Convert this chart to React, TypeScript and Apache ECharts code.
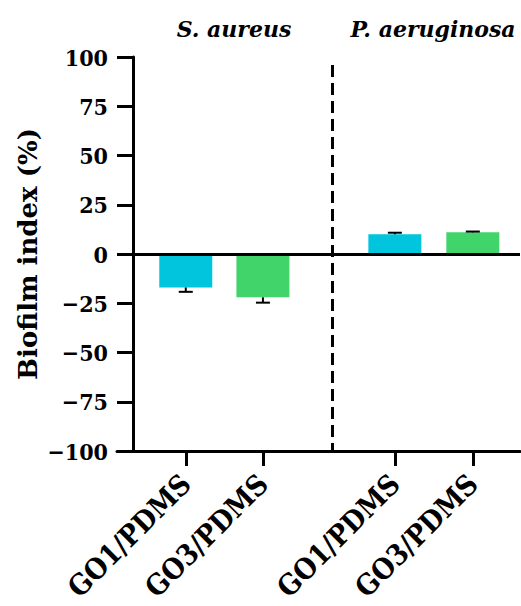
import React, { useEffect, useRef } from "react";
import * as echarts from "echarts";

const groups = ["S. aureus", "P. aeruginosa"];
const categories = ["GO1/PDMS", "GO3/PDMS", "GO1/PDMS", "GO3/PDMS"];
const biofilmIndex = [-17, -22, 10, 11];
const errors = [2.2, 2.7, 0.8, 0.4];
const barColors = ["#00C5DD", "#41D46B", "#00C5DD", "#41D46B"];
const xPositions = [0.66, 1.625, 3.275, 4.25];
const dividerX = 2.49;
const yMin = -100;
const yMax = 100;
const yInterval = 25;

const FONT_C = "'DejaVu Serif Condensed', 'DejaVu Serif', serif";
const FONT = "'DejaVu Serif', serif";

export default function App() {
  const ref = useRef<HTMLDivElement>(null);
  useEffect(() => {
    const chart = echarts.init(ref.current!, null, { renderer: "svg" });
    const nearestLabel = (v: number) => {
      let best = 0;
      xPositions.forEach((p, i) => {
        if (Math.abs(p - v) < Math.abs(xPositions[best] - v)) best = i;
      });
      return categories[best];
    };
    chart.setOption({
      animation: false,
      grid: {
        left: 117,
        right: 1,
        top: 57,
        bottom: 155,
        containLabel: false,
        outerBoundsMode: "none",
      },
      xAxis: {
        type: "value",
        min: -0.2,
        max: 4.84,
        splitLine: { show: false },
        axisLine: { onZero: false, lineStyle: { color: "#000", width: 3 } },
        axisTick: {
          customValues: xPositions,
          length: 15,
          lineStyle: { color: "#000", width: 3 },
        },
        axisLabel: {
          customValues: xPositions,
          formatter: (v: number) => nearestLabel(v),
          rotate: 45,
          margin: 28,
          color: "#000",
          fontFamily: FONT_C,
          fontWeight: "bold",
          fontSize: 28.5,
        },
      },
      yAxis: {
        type: "value",
        min: yMin,
        max: yMax,
        interval: yInterval,
        splitLine: { show: false },
        axisLine: { show: true, onZero: true, lineStyle: { color: "#000", width: 3 } },
        axisTick: { show: true, length: 16, lineStyle: { color: "#000", width: 3 } },
        axisLabel: {
          margin: 9,
          color: "#000",
          fontFamily: FONT_C,
          fontWeight: "bold",
          fontSize: 23,
          formatter: (v: number) => (v < 0 ? "\u2212" + Math.abs(v) : String(v)),
        },
        name: "Biofilm index (%)",
        nameLocation: "middle",
        nameGap: 76,
        nameMoveOverlap: false,
        nameTextStyle: {
          color: "#000",
          fontFamily: FONT,
          fontWeight: "bold",
          fontSize: 26,
        },
      },
      series: [
        {
          type: "bar",
          barWidth: 53,
          z: 2,
          data: xPositions.map((x, i) => ({
            value: [x, biofilmIndex[i]],
            itemStyle: { color: barColors[i] },
          })),
        },
        {
          type: "custom",
          z: 10,
          data: xPositions.map((x, i) => [x, biofilmIndex[i], errors[i]]),
          renderItem: (params: any, api: any) => {
            const x = api.value(0);
            const y = api.value(1);
            const e = api.value(2);
            const dir = y < 0 ? -1 : 1;
            const p0 = api.coord([x, y]);
            const p1 = api.coord([x, y + dir * e]);
            return {
              type: "group",
              children: [
                {
                  type: "line",
                  shape: { x1: p0[0], y1: p0[1], x2: p1[0], y2: p1[1] },
                  style: { stroke: "#000", lineWidth: 2 },
                },
                {
                  type: "line",
                  shape: { x1: p1[0] - 7, y1: p1[1], x2: p1[0] + 7, y2: p1[1] },
                  style: { stroke: "#000", lineWidth: 2 },
                },
              ],
            };
          },
          markLine: {
            silent: true,
            symbol: "none",
            label: { show: false },
            data: [
              { yAxis: 0, lineStyle: { color: "#000", width: 3, type: "solid" } },
              [
                { coord: [dividerX, 96], lineStyle: { color: "#000", width: 3, type: [12, 6] } },
                { coord: [dividerX, yMin] },
              ],
            ],
          },
        },
      ],
      graphic: [
        {
          type: "text",
          x: 234,
          y: 29,
          style: {
            text: groups[0],
            fill: "#000",
            font: "italic bold 22px 'DejaVu Serif', serif",
            align: "center",
            verticalAlign: "middle",
          },
        },
        {
          type: "text",
          x: 433,
          y: 29,
          style: {
            text: groups[1],
            fill: "#000",
            font: "italic bold 22px 'DejaVu Serif', serif",
            align: "center",
            verticalAlign: "middle",
          },
        },
      ],
    });
    return () => chart.dispose();
  }, []);
  return (
    <div
      ref={ref}
      style={{ position: "fixed", left: 0, top: 0, width: 521, height: 606, background: "#fff" }}
    />
  );
}
